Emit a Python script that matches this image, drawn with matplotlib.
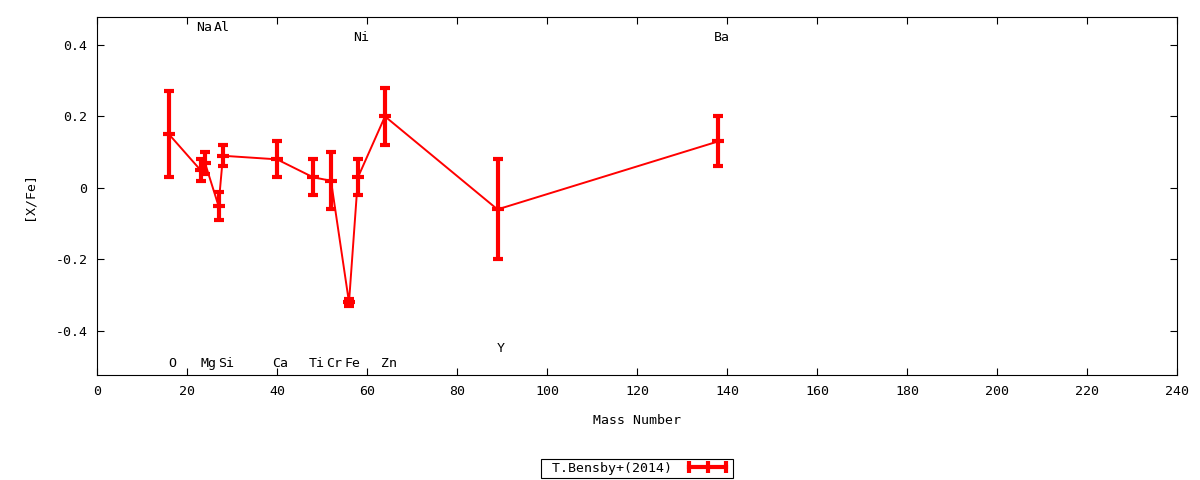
import matplotlib
matplotlib.use("Agg")
import matplotlib.pyplot as plt
from matplotlib.lines import Line2D
from matplotlib.ticker import MultipleLocator, FuncFormatter

plt.rcParams['font.family'] = ['DejaVu Sans Mono']
plt.rcParams['axes.unicode_minus'] = False

# abundances
elements = ["O", "Na", "Mg", "Al", "Si", "Ca", "Ti", "Cr", "Fe", "Ni", "Zn", "Y", "Ba"]
mass = [16, 23, 24, 27, 28, 40, 48, 52, 56, 58, 64, 89, 138]
xfe = [0.15, 0.05, 0.07, -0.05, 0.09, 0.08, 0.03, 0.02, -0.32, 0.03, 0.20, -0.06, 0.13]
err = [0.12, 0.03, 0.03, 0.04, 0.03, 0.05, 0.05, 0.08, 0.01, 0.05, 0.08, 0.14, 0.07]

# element name labels (top / bottom rows)
label_y = [-0.49, 0.45, -0.49, 0.45, -0.49, -0.49, -0.49, -0.49, -0.49, 0.42, -0.49, -0.45, 0.42]

fig = plt.figure(figsize=(12, 4.8), dpi=100)
ax = fig.add_axes([97/1200, 1-375/480, 1080/1200, 358/480])

ax.errorbar(mass, xfe, yerr=err, color="red", lw=1.4, elinewidth=3,
            capsize=3.5, capthick=3, marker="_", ms=8, mew=3)

for el, m, ly in zip(elements, mass, label_y):
    ax.text(m + 0.8, ly, el, ha="center", va="center", fontsize=9.5)

ax.set_xlim(0, 240)
ax.set_ylim(-0.523, 0.478)
ax.xaxis.set_major_locator(MultipleLocator(20))
ax.yaxis.set_major_locator(MultipleLocator(0.2))
ax.yaxis.set_major_formatter(FuncFormatter(lambda v, p: "%g" % round(v, 2)))
ax.tick_params(direction="in", top=True, right=True, length=5, labelsize=9.5, pad=7)

ax.set_xlabel("Mass Number", fontsize=9.5, labelpad=12)
ax.set_ylabel("[X/Fe]", fontsize=9.5, labelpad=14)

# gnuplot-style key: text first, then a horizontal bar with caps
proxy = Line2D([], [], color="red", lw=3, marker="|", ms=8, mew=3)
leg = ax.legend([proxy], [" T.Bensby+(2014)"], loc="upper center",
                bbox_to_anchor=(0.5, -0.215), markerfirst=False, numpoints=3,
                fancybox=False, framealpha=1, edgecolor="black", fontsize=9.5,
                handlelength=3.4, borderpad=0.25, handletextpad=1.0)
leg.get_frame().set_linewidth(0.8)

fig.savefig("out.png", dpi=100)
